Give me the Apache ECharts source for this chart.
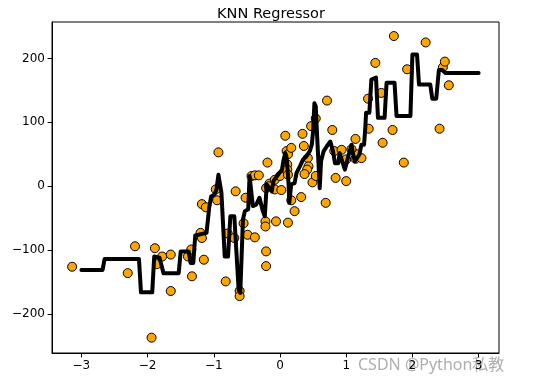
<!DOCTYPE html>
<html>
<head>
<meta charset="utf-8">
<script src="https://cdn.jsdelivr.net/npm/echarts@6/dist/echarts.min.js"></script>
<style>html,body{margin:0;padding:0;background:#fff}#c{width:542px;height:384px}</style>
</head>
<body>
<div id="c"></div>
<script>
// Scatter data (x, y)
const ptX = [-3.14,-2.30,-2.19,-1.94,-1.89,-1.86,-1.78,-1.65,-1.65,-1.39,-1.34,-1.33,-1.20,-1.18,-1.15,-1.18,-1.12,-0.97,-0.95,-0.93,
  -0.82,-0.79,-0.69,-0.67,-0.61,-0.61,-0.55,-0.52,-0.49,-0.38,-0.43,-0.38,-0.32,-0.19,-0.21,-0.21,-0.22,-0.22,-0.21,-0.16,
  -0.17,-0.08,-0.06,-0.08,0.02,0.00,0.08,0.12,0.10,0.12,0.11,0.11,0.12,0.17,0.17,0.22,0.32,0.34,0.36,0.47,
  0.42,0.43,0.41,0.37,0.49,0.54,0.54,0.71,0.69,0.79,0.82,0.84,0.93,1.00,1.00,1.14,1.14,1.16,1.23,1.08,
  1.33,1.34,1.44,1.53,1.55,1.70,1.72,1.87,1.92,2.20,2.41,2.46,2.49,2.55];
const ptY = [-126,-136,-94,-237,-97,-122,-110,-107,-164,-110,-99,-141,-73,-81,-115,-28,-33,-5,-22,53,
  -149,-74,-81,-8,-164,-172,-58,-18,-76,-80,16,17,17,37,-102,-125,-55,-63,-3,4,
  0,10,-55,-5,-6,16,79,-57,55,50,34,26,18,60,-22,-39,-17,82,63,94,
  44,31,26,19,6,16,106,134,-26,88,55,13,57,42,8,74,43,50,44,58,
  137,90,193,146,68,88,235,37,183,225,90,186,195,158];

// KNN prediction line vertices (x, y)
const lineX = [-3.00,-2.68,-2.65,-2.13,-2.10,-1.93,-1.90,-1.82,-1.76,-1.53,-1.50,-1.38,-1.35,-1.31,-1.28,-1.11,-1.07,-1.04,-0.99,-0.96,
  -0.93,-0.91,-0.885,-0.835,-0.785,-0.75,-0.69,-0.625,-0.60,-0.56,-0.53,-0.48,-0.46,-0.43,-0.41,-0.36,-0.31,-0.29,-0.26,-0.23,
  -0.20,-0.17,-0.125,-0.10,-0.07,-0.03,0.03,0.05,0.08,0.10,0.13,0.14,0.17,0.22,0.25,0.30,0.35,0.40,0.45,0.48,
  0.50,0.52,0.54,0.56,0.58,0.60,0.62,0.66,0.71,0.76,0.78,0.80,0.83,0.88,0.90,0.93,0.98,1.00,1.04,1.08,
  1.10,1.13,1.17,1.20,1.23,1.27,1.29,1.30,1.35,1.38,1.45,1.48,1.58,1.61,1.73,1.76,1.97,2.00,2.07,2.10,
  2.27,2.30,2.36,2.40,2.45,2.50,3.00];
const lineY = [-131,-131,-114,-114,-166,-166,-110,-112,-136,-136,-102,-102,-120,-120,-77,-73,-34,-16,-13,-5,
  18,18,-10,-110,-110,-47,-47,-162,-167,-52,-39,-36,16,18,-31,-29,-18,-15,-39,-47,
  3,6,-8,8,10,18,26,39,52,45,3,-26,3,5,21,31,42,47,55,65,
  86,130,125,80,39,-3,39,55,63,70,73,55,36,36,52,52,26,26,50,65,
  52,39,45,50,65,65,94,115,115,167,170,107,107,162,162,110,110,206,206,159,
  159,137,137,182,182,177,177];

const xTicks = [-3,-2,-1,0,1,2,3];
const yTicks = [-200,-100,0,100,200];

const chart = echarts.init(document.getElementById('c'), null, {renderer:'canvas'});
const font = 'DejaVu Sans';
chart.setOption({
  animation: false,
  backgroundColor: '#fff',
  title: {
    text: 'KNN Regressor', left: 'center', top: 2,
    textStyle: {fontFamily: font, fontSize: 14.5, fontWeight: 'normal', color: '#000'}
  },
  graphic: [{
    type: 'text', left: 358, top: 357,
    style: {text: 'CSDN @Python私教', font: '16px "Noto Sans", "Noto Sans CJK SC", sans-serif', fill: 'rgba(160,160,160,0.85)'}
  }],
  grid: {left: 52, right: 43, top: 22, bottom: 31, show: true, borderColor: '#000', borderWidth: 1, backgroundColor: 'transparent'},
  xAxis: {
    type: 'value', min: -3.444, max: 3.308,
    axisLine: {show: true, onZero: false, lineStyle: {color: '#000', width: 1}},
    axisTick: {show: true, length: 4.4, lineStyle: {color: '#000'}, customValues: xTicks},
    axisLabel: {color: '#000', fontFamily: font, fontSize: 12, margin: 7, customValues: xTicks,
      formatter: v => (v < 0 ? '\u2212' + Math.abs(v) : String(v))},
    splitLine: {show: false}
  },
  yAxis: {
    type: 'value', min: -261, max: 257,
    axisLine: {show: true, onZero: false, lineStyle: {color: '#000', width: 1}},
    axisTick: {show: true, length: 4.4, lineStyle: {color: '#000'}, customValues: yTicks},
    axisLabel: {color: '#000', fontFamily: font, fontSize: 12, margin: 7, customValues: yTicks,
      formatter: v => (v < 0 ? '\u2212' + Math.abs(v) : String(v))},
    splitLine: {show: false}
  },
  series: [
    {
      type: 'scatter', z: 2,
      data: ptX.map((x, i) => [x, ptY[i]]),
      symbol: 'circle', symbolSize: 9,
      itemStyle: {color: '#FFA500', borderColor: '#000', borderWidth: 1, opacity: 1}
    },
    {
      type: 'line', z: 3,
      data: lineX.map((x, i) => [x, lineY[i]]),
      showSymbol: false, symbol: 'none',
      lineStyle: {color: '#000', width: 4, join: 'round', cap: 'round'}
    }
  ]
});
</script>
</body>
</html>
